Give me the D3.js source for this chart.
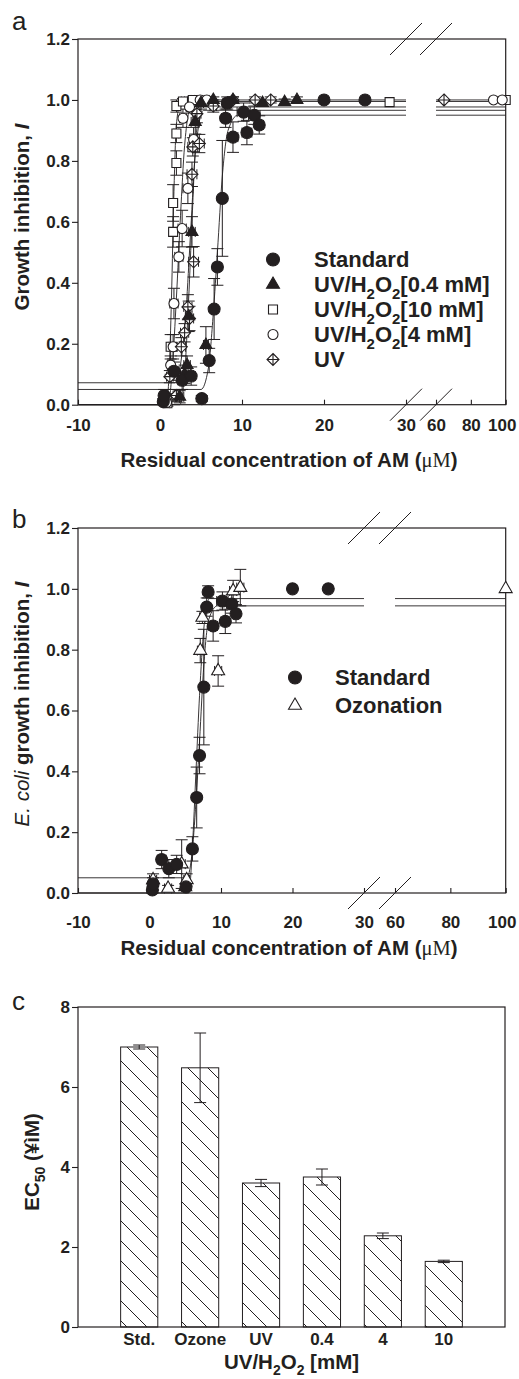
<!DOCTYPE html>
<html>
<head>
<meta charset="utf-8">
<script src="https://cdn.jsdelivr.net/npm/d3@7"></script>
<style>
body { margin: 0; background: #fff; }
svg { display: block; font-family: "Liberation Sans", Arial, sans-serif; }
</style>
</head>
<body>
<script>
const WIDTH = 519;
const HEIGHT = 1379;
const INK = "#231f20";

// ---- panel a / b data: residual AM (uM) vs growth inhibition ----
const xTicksLow = [-10, 0, 10, 20, 30];
const xTicksHigh = [60, 80, 100];
const yTicksAB = [0, 0.2, 0.4, 0.6, 0.8, 1.0, 1.2];

const stdX = [0.4, 0.5, 1.7, 2.7, 3.8, 5.1, 6.0, 6.6, 7.0, 7.6, 8.0, 8.2, 8.9, 10.2, 10.6, 11.5, 12.1, 20, 25];
const stdY = [0.01, 0.03, 0.11, 0.08, 0.094, 0.02, 0.145, 0.314, 0.452, 0.677, 0.94, 0.99, 0.878, 0.96, 0.893, 0.95, 0.918, 1.0, 1.0];
const stdYErr = [0.01, 0.02, 0.03, 0.03, 0.03, 0.01, 0.04, 0.1, 0.06, 0.19, 0.03, 0.02, 0.05, 0.03, 0.04, 0.03, 0.03, 0, 0];
const stdXErr = [0.3, 0.4, 0.6, 0.5, 0.5, 0, 0.2, 0.3, 0.3, 0.3, 0.5, 0.5, 0.6, 0.8, 0.6, 0.7, 0.5, 0, 0];

const p04X = [2.4, 3.0, 3.3, 3.5, 3.9, 4.3, 5.6, 5.0, 6.5, 8.9, 12.5, 15.2, 16.7];
const p04Y = [0.026, 0.10, 0.13, 0.29, 0.567, 0.928, 0.196, 0.99, 1.0, 1.0, 0.99, 0.993, 1.0];
const p04YErr = [0.02, 0.03, 0.03, 0.05, 0.05, 0.04, 0.06, 0.02, 0.01, 0.01, 0.01, 0.01, 0.01];
const p04XErr = [0.5, 0.5, 0.4, 0.4, 0.4, 0.5, 0.3, 0.3, 0, 0, 0, 0, 0];

const p10X = [0.9, 1.3, 1.6, 1.6, 2.0, 2.0, 2.0, 2.8, 4.0, 28, 100];
const p10Y = [0.005, 0.19, 0.567, 0.662, 0.793, 0.89, 0.98, 0.995, 1.0, 0.993, 1.0];
const p10YErr = [0.01, 0.04, 0.05, 0.06, 0.04, 0.03, 0.02, 0.01, 0.01, 0, 0];
const p10XErr = [0.3, 0.3, 0.4, 0.5, 0.4, 0.3, 0.3, 0.2, 0.2, 0, 0];

const p4X = [0.8, 1.3, 1.6, 1.7, 2.3, 2.7, 3.4, 2.8, 4.1, 3.6, 4.9, 5.7, 93, 98];
const p4Y = [0.007, 0.13, 0.19, 0.332, 0.485, 0.578, 0.71, 0.94, 0.87, 0.977, 1.0, 1.0, 1.0, 1.0];
const p4YErr = [0.01, 0.03, 0.04, 0.05, 0.05, 0.06, 0.05, 0.03, 0.04, 0.02, 0.01, 0.01, 0, 0];
const p4XErr = [0.3, 0.4, 0.4, 0.5, 0.5, 0.5, 0.6, 0.4, 0.5, 0.4, 0.3, 0.3, 0, 0];

const uvX = [0.8, 1.2, 2.0, 2.6, 3.0, 3.4, 3.6, 4.1, 3.9, 4.0, 4.8, 4.5, 6.5, 8.9, 11.6, 13.5, 64.6];
const uvY = [0.026, 0.092, 0.03, 0.19, 0.236, 0.321, 0.283, 0.469, 0.756, 0.846, 0.857, 0.955, 0.98, 1.0, 1.0, 1.0, 1.0];
const uvYErr = [0.01, 0.02, 0.02, 0.03, 0.03, 0.04, 0.04, 0.05, 0.04, 0.03, 0.03, 0.03, 0.02, 0.01, 0.01, 0.01, 0];
const uvXErr = [0.3, 0.4, 0.4, 0.5, 0.5, 0.5, 0.5, 0.6, 0.6, 0.6, 0.6, 0.5, 0.4, 0, 0, 0, 0];

const ozX = [0.5, 2.6, 4.5, 5.0, 5.2, 7.1, 7.4, 9.6, 11.7, 12.7, 100];
const ozY = [0.043, 0.015, 0.095, 0.02, 0.043, 0.797, 0.906, 0.73, 0.993, 1.004, 1.0];
const ozYErr = [0.02, 0.01, 0.08, 0.01, 0.02, 0.04, 0.02, 0.05, 0.035, 0.06, 0];
const ozXErr = [0.5, 0.5, 0.5, 0.5, 0.4, 0.4, 0.4, 0.5, 0.5, 0.5, 0];

// fitted curves
const fitStdAX = [-10, 5.0, 5.9, 6.5, 7.0, 7.6, 8.3, 9.5, 30, 60, 100];
const fitStdAY = [0.05, 0.05, 0.12, 0.3, 0.5, 0.75, 0.9, 0.95, 0.95, 0.95, 0.95];
const fit04X = [-10, 2.4, 3.0, 3.5, 3.9, 4.4, 5.2, 30, 60, 100];
const fit04Y = [0, 0, 0.1, 0.35, 0.6, 0.88, 0.995, 0.995, 0.995, 0.995];
const fit10X = [-10, 0.8, 1.1, 1.4, 1.7, 2.0, 2.6, 30, 60, 100];
const fit10Y = [0, 0, 0.1, 0.35, 0.7, 0.92, 1.0, 1.0, 1.0, 1.0];
const fit4X = [-10, 1.0, 1.5, 2.0, 2.5, 3.0, 3.8, 30, 60, 100];
const fit4Y = [0, 0, 0.12, 0.35, 0.62, 0.85, 0.977, 0.977, 0.977, 0.977];
const fitUVX = [-10, 1.8, 2.6, 3.2, 3.7, 4.3, 5.3, 30, 60, 100];
const fitUVY = [0.072, 0.072, 0.15, 0.32, 0.55, 0.82, 0.966, 0.966, 0.966, 0.966];

const fitStdBX = [-10, 5.2, 5.9, 6.5, 7.0, 7.6, 8.3, 9.5, 30, 60, 100];
const fitStdBY = [0.05, 0.05, 0.12, 0.3, 0.5, 0.75, 0.9, 0.944, 0.944, 0.944, 0.944];
const fitOzX = [-10, 5.5, 6.0, 6.5, 7.0, 7.6, 8.4, 30, 60, 100];
const fitOzY = [0, 0, 0.15, 0.4, 0.65, 0.87, 0.968, 0.968, 0.968, 0.968];

const legendA = ["Standard", "UV/H2O2[0.4 mM]", "UV/H2O2[10 mM]", "UV/H2O2[4 mM]", "UV"];
const legendB = ["Standard", "Ozonation"];

// ---- panel c data: EC50 ----
const barLabels = ["Std.", "Ozone", "UV", "0.4", "4", "10"];
const ec50 = [7.0, 6.48, 3.6, 3.75, 2.28, 1.64];
const ec50Err = [0.05, 0.87, 0.09, 0.2, 0.07, 0.03];
const yTicksC = [0, 2, 4, 6, 8];

var svg = d3.select("body").append("svg")
    .attr("width", WIDTH)
    .attr("height", HEIGHT);

svg.append("rect").attr("width", WIDTH).attr("height", HEIGHT).attr("fill", "#fff");

// plain hyphen for negatives, like the original
var fmtInt = function(v) { return v < 0 ? "-" + Math.abs(v) : String(v); };

// text with H2O2 subscripts
function richText(sel, str, size) {
    var tokens = [];
    str.split(/(H2O2)/).forEach(function(p) {
        if (p === "H2O2") {
            tokens.push({t: "H"}, {t: "2", sub: true}, {t: "O"}, {t: "2", sub: true});
        } else if (p.length) {
            tokens.push({t: p});
        }
    });
    var cur = 0;
    tokens.forEach(function(tk) {
        var target = tk.sub ? size * 0.3 : 0;
        var ts = sel.append("tspan").attr("dy", target - cur).text(tk.t);
        if (tk.sub) ts.attr("font-size", size * 0.68);
        cur = target;
    });
}

function markerPath(kind, r) {
    if (kind === "dot" || kind === "ring") return d3.symbol(d3.symbolCircle, Math.PI * r * r)();
    if (kind === "tri" || kind === "triOpen") return d3.symbol(d3.symbolTriangle, Math.sqrt(3) * r * r)();
    if (kind === "square") return d3.symbol(d3.symbolSquare, 4 * r * r)();
    // diamond with a cross inside
    return "M0," + (-r) + "L" + r + ",0L0," + r + "L" + (-r) + ",0Z" +
        "M0," + (-r) + "L0," + r + "M" + (-r) + ",0L" + r + ",0";
}

function drawMarker(g, kind, r, cx, cy) {
    var filled = (kind === "dot" || kind === "tri");
    g.append("path")
        .attr("d", markerPath(kind, r))
        .attr("transform", "translate(" + cx + "," + cy + ")")
        .attr("fill", filled ? INK : "#fff")
        .attr("stroke", INK)
        .attr("stroke-width", 1.1);
}

function drawBreak(g, gx, gy) {
    g.append("line")
        .attr("x1", gx - 16).attr("y1", gy + 16)
        .attr("x2", gx + 16).attr("y2", gy - 16)
        .attr("stroke", INK).attr("stroke-width", 1);
}

function drawPanel(cfg, series, fits, legend) {
    var lo = d3.scaleLinear().domain([-10, 30]).range([cfg.left, cfg.gapL]);
    var hi = d3.scaleLinear().domain([60, 100]).range([cfg.gapR, cfg.right]);
    var xs = function(v) { return v <= 45 ? lo(v) : hi(v); };
    var y = d3.scaleLinear().domain([0, 1.2]).range([cfg.bottom, cfg.top]);

    var g = svg.append("g");

    // frame
    g.append("rect")
        .attr("x", cfg.left).attr("y", cfg.top)
        .attr("width", cfg.right - cfg.left).attr("height", cfg.bottom - cfg.top)
        .attr("fill", "none").attr("stroke", INK).attr("stroke-width", 1.2);

    // axes
    var yAxis = d3.axisLeft(y).tickValues(yTicksAB).tickFormat(d3.format(".1f"))
        .tickSize(6).tickPadding(2);
    var gy = g.append("g").attr("transform", "translate(" + cfg.left + ",0)").call(yAxis);

    var axLo = d3.axisBottom(lo).tickValues(xTicksLow).tickFormat(fmtInt)
        .tickSizeInner(-5).tickSizeOuter(0).tickPadding(cfg.tickPad);
    var axHi = d3.axisBottom(hi).tickValues(xTicksHigh).tickFormat(fmtInt)
        .tickSizeInner(-5).tickSizeOuter(0).tickPadding(cfg.tickPad);
    var gxl = g.append("g").attr("transform", "translate(0," + cfg.bottom + ")").call(axLo);
    var gxh = g.append("g").attr("transform", "translate(0," + cfg.bottom + ")").call(axHi);
    gxh.selectAll(".tick text").filter(function(d) { return d === 100; }).attr("dx", -4);

    [gy, gxl, gxh].forEach(function(a) {
        a.select(".domain").remove();
        a.selectAll(".tick line").attr("stroke", INK).attr("stroke-width", 1.1);
        a.selectAll(".tick text")
            .attr("font-family", "Liberation Sans, Arial, sans-serif")
            .attr("font-size", 17).attr("font-weight", "bold").attr("fill", INK);
    });

    // break marks
    [cfg.top, cfg.bottom].forEach(function(yy) {
        drawBreak(g, cfg.gapL, yy);
        drawBreak(g, cfg.gapR, yy);
    });

    // fitted curves, split at the axis break
    var line = d3.line().x(function(d) { return xs(d[0]); }).y(function(d) { return y(d[1]); })
        .curve(d3.curveMonotoneX);
    fits.forEach(function(f) {
        var pts = f.x.map(function(v, i) { return [v, f.y[i]]; });
        [pts.filter(function(p) { return p[0] <= 30; }), pts.filter(function(p) { return p[0] >= 60; })]
            .forEach(function(seg) {
                g.append("path").attr("d", line(seg))
                    .attr("fill", "none").attr("stroke", INK).attr("stroke-width", 0.9);
            });
    });

    // error bars then markers
    series.forEach(function(s) {
        s.x.forEach(function(v, i) {
            var cx = xs(v), cy = y(s.y[i]);
            var ey = s.ey[i], ex = s.ex[i];
            if (ey > 0) {
                var y1 = y(s.y[i] + ey), y2 = y(s.y[i] - ey);
                g.append("line").attr("x1", cx).attr("x2", cx).attr("y1", y1).attr("y2", y2)
                    .attr("stroke", INK).attr("stroke-width", 1);
                [y1, y2].forEach(function(yy) {
                    g.append("line").attr("x1", cx - 6).attr("x2", cx + 6).attr("y1", yy).attr("y2", yy)
                        .attr("stroke", INK).attr("stroke-width", 1);
                });
            }
            if (ex > 0) {
                var x1 = xs(v - ex), x2 = xs(v + ex);
                g.append("line").attr("x1", x1).attr("x2", x2).attr("y1", cy).attr("y2", cy)
                    .attr("stroke", INK).attr("stroke-width", 1);
                [x1, x2].forEach(function(xx) {
                    g.append("line").attr("x1", xx).attr("x2", xx).attr("y1", cy - 5).attr("y2", cy + 5)
                        .attr("stroke", INK).attr("stroke-width", 1);
                });
            }
        });
    });
    series.forEach(function(s) {
        s.x.forEach(function(v, i) {
            drawMarker(g, s.kind, s.r, xs(v), y(s.y[i]));
        });
    });

    // legend
    legend.labels.forEach(function(lab, i) {
        var by = legend.y0 + i * legend.dy;
        drawMarker(g, legend.kinds[i], legend.r[i], legend.symX, by - 7.5);
        var t = g.append("text").attr("x", legend.textX).attr("y", by)
            .attr("font-size", 22).attr("font-weight", "bold").attr("fill", INK);
        richText(t, lab, 22);
    });

    // x label
    var xl = g.append("text")
        .attr("x", cfg.xLabelX).attr("y", cfg.xLabelY)
        .attr("text-anchor", "middle").attr("font-size", 20.5).attr("font-weight", "bold").attr("fill", INK);
    xl.append("tspan").text("Residual concentration of AM (");
    xl.append("tspan").attr("font-family", "Liberation Serif, Times New Roman, serif")
        .attr("font-weight", "normal").text("\u03bcM");
    xl.append("tspan").text(")");

    // letter
    g.append("text").attr("x", 12).attr("y", cfg.letterY)
        .attr("font-size", 26).attr("fill", INK).text(cfg.letter);

    return g;
}

// ---- panel a ----
var seriesA = [
    {x: p10X, y: p10Y, ex: p10XErr, ey: p10YErr, kind: "square", r: 4.5},
    {x: p4X, y: p4Y, ex: p4XErr, ey: p4YErr, kind: "ring", r: 5},
    {x: uvX, y: uvY, ex: uvXErr, ey: uvYErr, kind: "diamondPlus", r: 6},
    {x: p04X, y: p04Y, ex: p04XErr, ey: p04YErr, kind: "tri", r: 6},
    {x: stdX, y: stdY, ex: stdXErr, ey: stdYErr, kind: "dot", r: 6}
];
var fitsA = [
    {x: fitStdAX, y: fitStdAY}, {x: fit04X, y: fit04Y}, {x: fit10X, y: fit10Y},
    {x: fit4X, y: fit4Y}, {x: fitUVX, y: fitUVY}
];
var gA = drawPanel(
    {top: 39, bottom: 404.7, left: 78, right: 505.7, gapL: 406, gapR: 436, tickPad: 14,
     xLabelX: 289, xLabelY: 467, letter: "a", letterY: 30},
    seriesA, fitsA,
    {labels: legendA, kinds: ["dot", "tri", "square", "ring", "diamondPlus"], r: [6.5, 6.5, 4.5, 5, 6],
     symX: 273, textX: 314, y0: 267, dy: 25});

var ylA = gA.append("text")
    .attr("transform", "translate(29,217) rotate(-90)")
    .attr("text-anchor", "middle").attr("font-size", 20.5).attr("font-weight", "bold").attr("fill", INK);
ylA.append("tspan").text("Growth inhibition, ");
ylA.append("tspan").attr("font-style", "italic").text("I");

// ---- panel b ----
var seriesB = [
    {x: ozX, y: ozY, ex: ozXErr, ey: ozYErr, kind: "triOpen", r: 6.5},
    {x: stdX, y: stdY, ex: stdXErr, ey: stdYErr, kind: "dot", r: 6}
];
var fitsB = [{x: fitStdBX, y: fitStdBY}, {x: fitOzX, y: fitOzY}];
var gB = drawPanel(
    {top: 528, bottom: 893, left: 78, right: 505.7, gapL: 364, gapR: 395, tickPad: 23,
     xLabelX: 289, xLabelY: 955, letter: "b", letterY: 528},
    seriesB, fitsB,
    {labels: legendB, kinds: ["dot", "triOpen"], r: [6.5, 6.5],
     symX: 295, textX: 335, y0: 685, dy: 28});

var ylB = gB.append("text")
    .attr("transform", "translate(29,704) rotate(-90)")
    .attr("text-anchor", "middle").attr("font-size", 20.5).attr("font-weight", "bold").attr("fill", INK);
ylB.append("tspan").attr("font-style", "italic").attr("font-weight", "normal").text("E. coli");
ylB.append("tspan").text(" growth inhibition, ");
ylB.append("tspan").attr("font-style", "italic").text("I");

// ---- panel c ----
var C = {top: 1007, bottom: 1327, left: 78, right: 505};
var xC = d3.scaleBand().domain(barLabels).range([C.left, C.right])
    .paddingInner(0.39).paddingOuter(0.7);
var yC = d3.scaleLinear().domain([0, 8]).range([C.bottom, C.top]);

var gC = svg.append("g");
var defs = svg.append("defs");
defs.append("pattern").attr("id", "hatch").attr("patternUnits", "userSpaceOnUse")
    .attr("width", 20).attr("height", 20)
    .append("path").attr("d", "M0,0L20,20M-2,18L2,22M18,-2L22,2")
    .attr("stroke", INK).attr("stroke-width", 1);

gC.selectAll("rect.bar").data(barLabels).enter().append("rect")
    .attr("class", "bar")
    .attr("x", function(d) { return xC(d); })
    .attr("width", xC.bandwidth())
    .attr("y", function(d, i) { return yC(ec50[i]); })
    .attr("height", function(d, i) { return C.bottom - yC(ec50[i]); })
    .attr("fill", "url(#hatch)")
    .attr("stroke", INK).attr("stroke-width", 1);

barLabels.forEach(function(d, i) {
    var cx = xC(d) + xC.bandwidth() / 2;
    var y1 = yC(ec50[i] + ec50Err[i]), y2 = yC(ec50[i] - ec50Err[i]);
    gC.append("line").attr("x1", cx).attr("x2", cx).attr("y1", y1).attr("y2", y2)
        .attr("stroke", INK).attr("stroke-width", 1);
    [y1, y2].forEach(function(yy) {
        gC.append("line").attr("x1", cx - 6).attr("x2", cx + 6).attr("y1", yy).attr("y2", yy)
            .attr("stroke", INK).attr("stroke-width", 1);
    });
});

gC.append("rect")
    .attr("x", C.left).attr("y", C.top)
    .attr("width", C.right - C.left).attr("height", C.bottom - C.top)
    .attr("fill", "none").attr("stroke", INK).attr("stroke-width", 1.2);

var gyC = gC.append("g").attr("transform", "translate(" + C.left + ",0)")
    .call(d3.axisLeft(yC).tickValues(yTicksC).tickSize(6).tickPadding(2));
var gxC = gC.append("g").attr("transform", "translate(0," + C.bottom + ")")
    .call(d3.axisBottom(xC).tickSize(0).tickPadding(6));
[gyC, gxC].forEach(function(a) {
    a.select(".domain").remove();
    a.selectAll(".tick line").attr("stroke", INK).attr("stroke-width", 1.1);
    a.selectAll(".tick text")
        .attr("font-family", "Liberation Sans, Arial, sans-serif")
        .attr("font-size", 17).attr("font-weight", "bold").attr("fill", INK);
});

var xlC = gC.append("text").attr("x", 291.5).attr("y", 1369)
    .attr("text-anchor", "middle").attr("font-size", 20.5).attr("font-weight", "bold").attr("fill", INK);
richText(xlC, "UV/H2O2 [mM]", 20.5);

var ylC = gC.append("text")
    .attr("transform", "translate(39,1162) rotate(-90)")
    .attr("text-anchor", "middle").attr("font-size", 20.5).attr("font-weight", "bold").attr("fill", INK);
ylC.append("tspan").text("EC");
ylC.append("tspan").attr("font-size", 14).attr("dy", 6).text("50");
ylC.append("tspan").attr("dy", -6).text(" (\u00a5\u00ecM)");

gC.append("text").attr("x", 12).attr("y", 1010)
    .attr("font-size", 26).attr("fill", INK).text("c");
</script>
</body>
</html>
